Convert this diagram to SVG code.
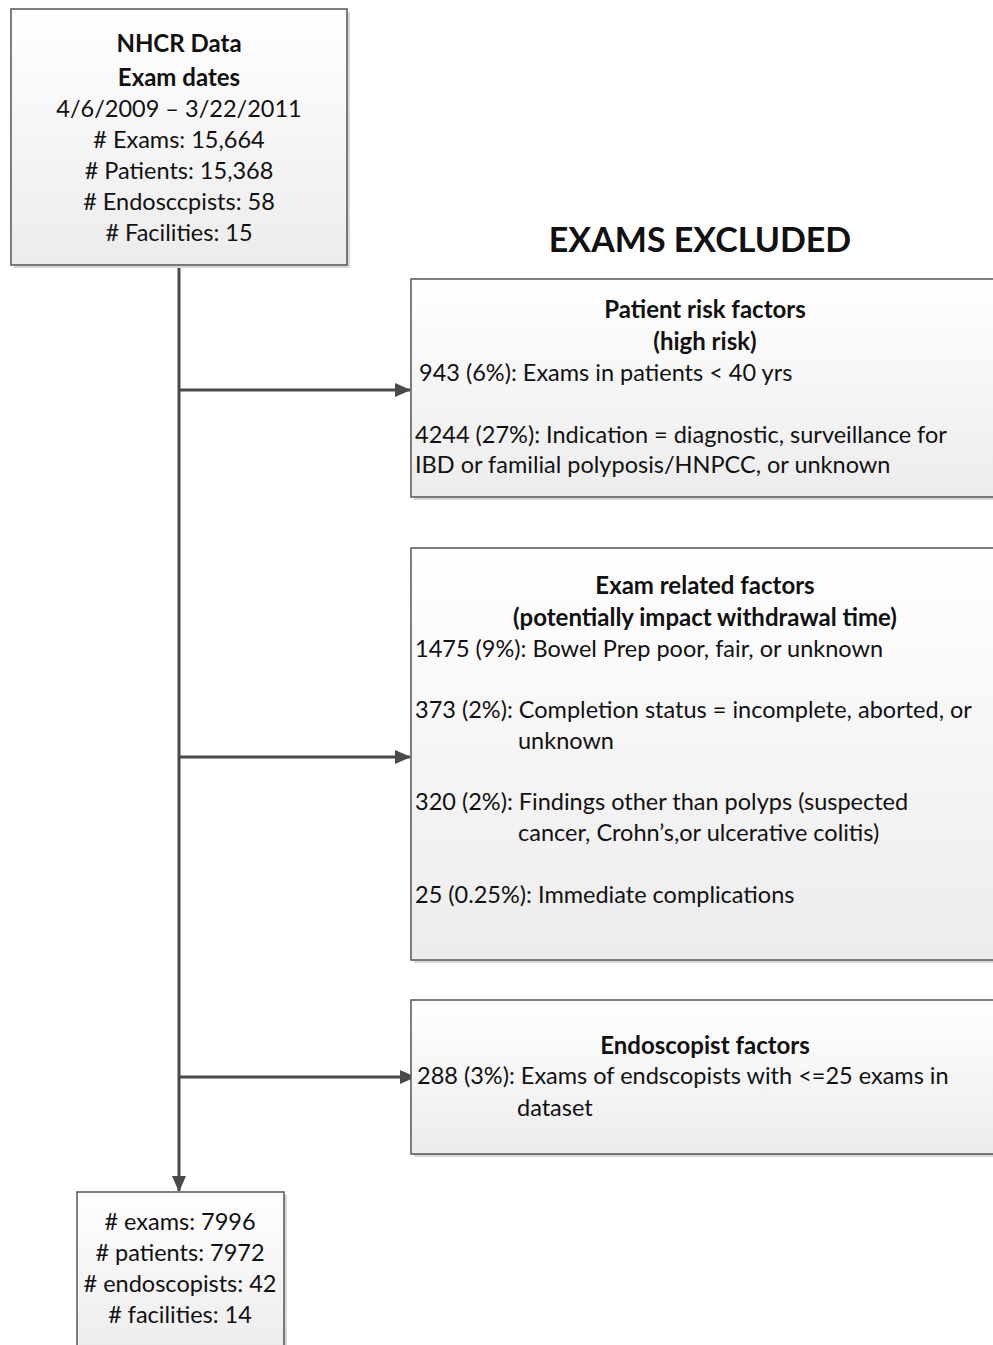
<svg xmlns="http://www.w3.org/2000/svg" width="993" height="1345" viewBox="0 0 993 1345">
<defs>
<linearGradient id="g" x1="0" y1="0" x2="0" y2="1">
<stop offset="0" stop-color="#ffffff"/>
<stop offset="1" stop-color="#ececec"/>
</linearGradient>
<marker id="ah" markerWidth="16" markerHeight="14" refX="15" refY="7" orient="auto" markerUnits="userSpaceOnUse" viewBox="0 0 16 14">
<path d="M0,0 L16,7 L0,14 Z" fill="#4a4a4a"/>
</marker>
</defs>
<style>
.box{fill:url(#g);stroke:#555;stroke-width:1.5}
.sh{fill:#d8d8d8}
text{font-family:Lato,"Open Sans","Liberation Sans",sans-serif;font-size:23.5px;fill:#111}
.b{font-weight:bold;font-size:24px}
.c{text-anchor:middle}
.ln{stroke:#4a4a4a;stroke-width:3;fill:none}
</style>
<rect width="993" height="1345" fill="#fff"/>
<text x="700" y="252" class="b c" style="font-size:34px">EXAMS EXCLUDED</text>
<g id="connectors">
<line class="ln" x1="179" y1="265" x2="179" y2="1191" marker-end="url(#ah)"/>
<line class="ln" x1="179" y1="390" x2="410" y2="390" marker-end="url(#ah)"/>
<line class="ln" x1="179" y1="757" x2="410" y2="757" marker-end="url(#ah)"/>
<line class="ln" x1="179" y1="1077" x2="415" y2="1077" marker-end="url(#ah)"/>
</g>
<g id="start">
<rect class="sh" x="14" y="12" width="336" height="256"/>
<rect class="box" x="11" y="9" width="336" height="256"/>
<text x="179" y="52" class="b c">NHCR Data</text>
<text x="179" y="86" class="b c">Exam dates</text>
<text x="179" y="117" class="c">4/6/2009 – 3/22/2011</text>
<text x="179" y="148" class="c"># Exams: 15,664</text>
<text x="179" y="179" class="c"># Patients: 15,368</text>
<text x="179" y="210" class="c"># Endosccpists: 58</text>
<text x="179" y="241" class="c"># Facilities: 15</text>
</g>
<g id="patient">
<rect class="sh" x="414" y="282" width="590" height="218"/>
<rect class="box" x="411" y="279" width="590" height="218"/>
<text x="705" y="318" class="b c">Patient risk factors</text>
<text x="705" y="350" class="b c">(high risk)</text>
<text x="419" y="381">943 (6%): Exams in patients &lt; 40 yrs</text>
<text x="415" y="443">4244 (27%): Indication = diagnostic, surveillance for</text>
<text x="415" y="473">IBD or familial polyposis/HNPCC, or unknown</text>
</g>
<g id="exam">
<rect class="sh" x="414" y="551" width="590" height="412"/>
<rect class="box" x="411" y="548" width="590" height="412"/>
<text x="705" y="594" class="b c">Exam related factors</text>
<text x="705" y="626" class="b c">(potentially impact withdrawal time)</text>
<text x="415" y="657">1475 (9%): Bowel Prep poor, fair, or unknown</text>
<text x="415" y="718">373 (2%): Completion status = incomplete, aborted, or</text>
<text x="518" y="749">unknown</text>
<text x="415" y="810">320 (2%): Findings other than polyps (suspected</text>
<text x="518" y="841">cancer, Crohn’s,or ulcerative colitis)</text>
<text x="415" y="903">25 (0.25%): Immediate complications</text>
</g>
<g id="endoscopist">
<rect class="sh" x="414" y="1003" width="590" height="154"/>
<rect class="box" x="411" y="1000" width="590" height="154"/>
<text x="705" y="1054" class="b c">Endoscopist factors</text>
<text x="417" y="1084">288 (3%): Exams of endscopists with &lt;=25 exams in</text>
<text x="517" y="1116">dataset</text>
</g>
<g id="final">
<rect class="sh" x="80" y="1195" width="207" height="160"/>
<rect class="box" x="77" y="1192" width="207" height="160"/>
<text x="180" y="1230" class="c"># exams: 7996</text>
<text x="180" y="1261" class="c"># patients: 7972</text>
<text x="180" y="1292" class="c"># endoscopists: 42</text>
<text x="180" y="1323" class="c"># facilities: 14</text>
</g>
</svg>
